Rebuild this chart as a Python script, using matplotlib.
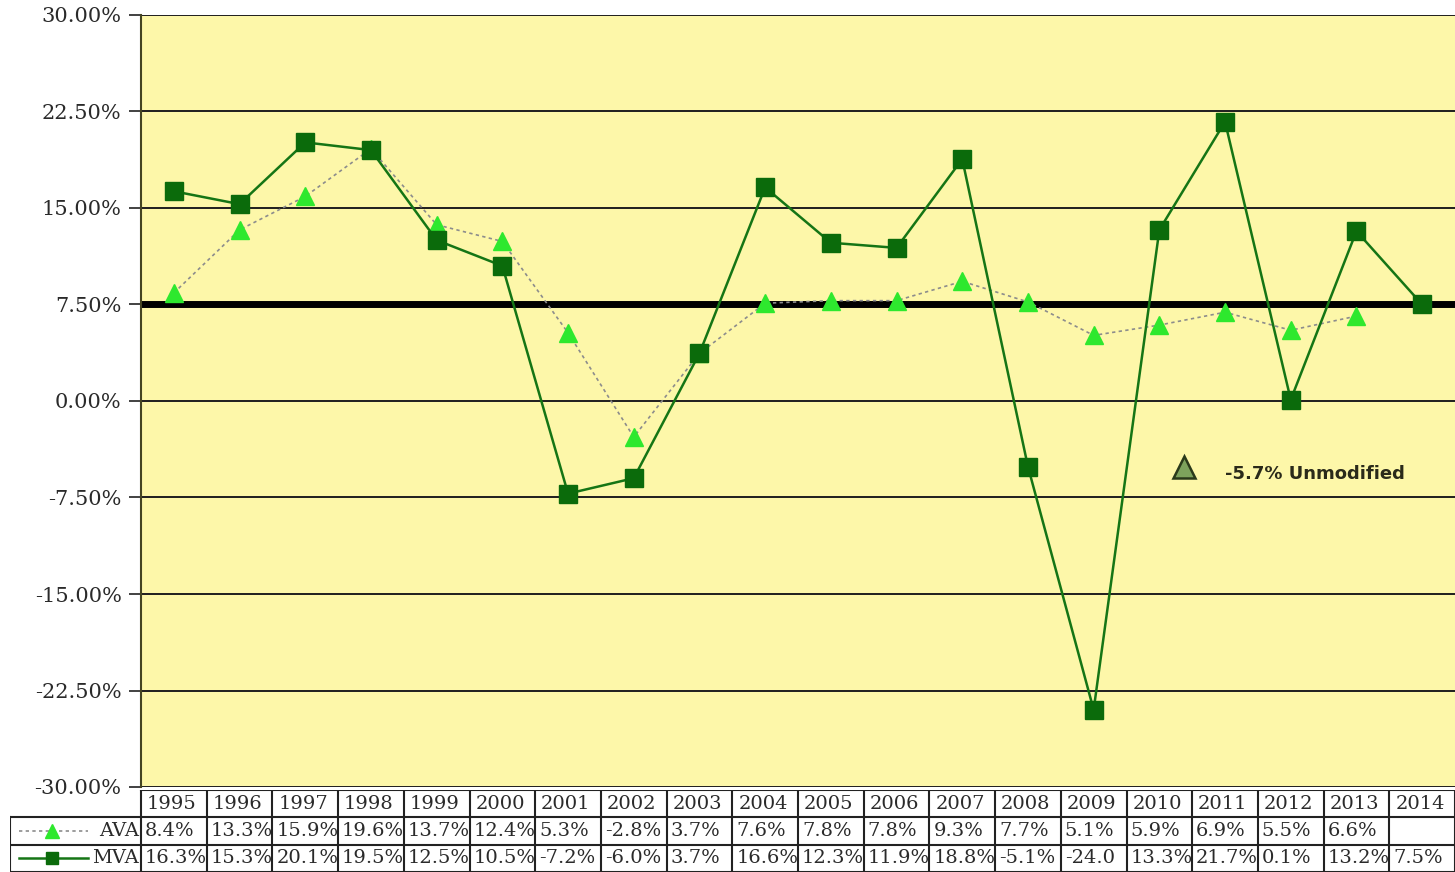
import numpy as np
import matplotlib.pyplot as plt
from matplotlib.lines import Line2D

years = [str(y) for y in range(1995, 2015)]
ava = [8.4, 13.3, 15.9, 19.6, 13.7, 12.4, 5.3, -2.8, 3.7, 7.6, 7.8, 7.8, 9.3, 7.7,
       5.1, 5.9, 6.9, 5.5, 6.6, np.nan]
mva = [16.3, 15.3, 20.1, 19.5, 12.5, 10.5, -7.2, -6.0, 3.7, 16.6, 12.3, 11.9, 18.8,
       -5.1, -24.0, 13.3, 21.7, 0.1, 13.2, 7.5]
ava_txt = ["8.4%", "13.3%", "15.9%", "19.6%", "13.7%", "12.4%", "5.3%", "-2.8%", "3.7%",
           "7.6%", "7.8%", "7.8%", "9.3%", "7.7%", "5.1%", "5.9%", "6.9%", "5.5%", "6.6%", ""]
mva_txt = ["16.3%", "15.3%", "20.1%", "19.5%", "12.5%", "10.5%", "-7.2%", "-6.0%", "3.7%",
           "16.6%", "12.3%", "11.9%", "18.8%", "-5.1%", "-24.0", "13.3%", "21.7%", "0.1%",
           "13.2%", "7.5%"]
ticks = [30, 22.5, 15, 7.5, 0, -7.5, -15, -22.5, -30]
target = 7.5
unmod = -5.7

W, H = 1455, 872
fig = plt.figure(figsize=(W / 100, H / 100), dpi=100)
serif = "DejaVu Serif"
tc = "#2a2a2a"

ax = fig.add_axes([141 / W, 1 - 787 / H, (W - 141) / W, (787 - 15) / H])
ax.set_facecolor("#fdf7a9")
x = np.arange(len(years))
ax.set_xlim(-0.5, len(years) - 0.5)
ax.set_ylim(-30, 30)
ax.set_yticks(ticks)
ax.set_yticklabels([f"{t:.2f}%" for t in ticks], fontfamily=serif, fontsize=15, color=tc)
ax.set_xticks([])
for t in ticks:
    ax.axhline(t, color="#1e1e1e", lw=1.4, zorder=1)
ax.axhline(target, color="black", lw=5, zorder=2)
for s in ["top", "right", "bottom"]:
    ax.spines[s].set_visible(False)
ax.spines["left"].set_color("#444422")
ax.spines["left"].set_linewidth(1.5)
ax.tick_params(axis="y", length=9, width=1.3, color="#333333", pad=5)

ax.plot(x, ava, ls=(0, (2, 2)), color="#8c8c8c", lw=1.2, marker="^", ms=13,
        mfc="#2ee82e", mec="#2ee82e", zorder=3)
ax.plot(x, mva, ls="-", color="#157515", lw=1.8, marker="s", ms=13,
        mfc="#0b6b0b", mec="#0b6b0b", zorder=4)

ax.plot([15.38], [unmod + 0.6], marker="^", ms=16, mfc="#7da35c", mec="#2a3a1a",
        mew=1.8, ls="none", zorder=5)
ax.text(16.0, unmod, f"{unmod}% Unmodified", fontfamily="DejaVu Sans", fontweight="bold",
        fontsize=13, color="#2a2a1a", va="center", ha="left")

# data table under the plot
tax = fig.add_axes([(141 - 2 * 65.7) / W, 0, (W - 141 + 2 * 65.7) / W, (H - 790) / H])
tax.set_xlim(-2.5, len(years) - 0.5)
tax.set_ylim(0, 3)
tax.axis("off")
lc = "#222222"
for i, y in enumerate(years):
    tax.text(i - 0.41, 2.5, y, ha="left", va="center", fontfamily=serif, fontsize=14, color=tc)
    tax.text(i - 0.44, 1.5, ava_txt[i], ha="left", va="center", fontfamily=serif,
             fontsize=14, color=tc)
    tax.text(i - 0.44, 0.5, mva_txt[i], ha="left", va="center", fontfamily=serif,
             fontsize=14, color=tc)
for i in range(len(years) + 1):
    tax.plot([i - 0.5, i - 0.5], [0, 3], color=lc, lw=1.5)
tax.plot([-0.5, len(years) - 0.5], [3, 3], color=lc, lw=1.5)
tax.plot([-2.5, len(years) - 0.5], [2, 2], color=lc, lw=1.5)
tax.plot([-2.5, len(years) - 0.5], [1, 1], color=lc, lw=1.5)
tax.plot([-2.5, -2.5], [0, 2], color=lc, lw=1.5)
tax.plot([-2.5, len(years) - 0.5], [0.01, 0.01], color=lc, lw=1.5)
tax.add_line(Line2D([-2.35, -1.3], [1.5, 1.5], ls=(0, (2, 2)), color="#8c8c8c", lw=1.2))
tax.plot([-1.85], [1.5], marker="^", ms=10, color="#2ee82e", ls="none")
tax.add_line(Line2D([-2.35, -1.3], [0.5, 0.5], color="#157515", lw=1.8))
tax.plot([-1.85], [0.5], marker="s", ms=9, color="#0b6b0b", ls="none")
tax.text(-0.53, 1.5, "AVA", ha="right", va="center", fontfamily=serif, fontsize=14, color=tc)
tax.text(-0.53, 0.5, "MVA", ha="right", va="center", fontfamily=serif, fontsize=14, color=tc)

fig.savefig("out.png", dpi=100)
